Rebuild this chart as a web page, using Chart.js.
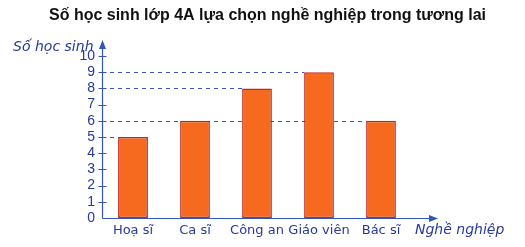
<!DOCTYPE html>
<html>
<head>
<meta charset="utf-8">
<script src="https://cdn.jsdelivr.net/npm/chart.js@4/dist/chart.umd.min.js"></script>
<style>
  html, body { margin: 0; padding: 0; background: #fff; }
  canvas { display: block; }
</style>
</head>
<body>
<canvas id="careerChart" width="525" height="247"></canvas>
<script>
// Data
const careers = ['Hoạ sĩ', 'Ca sĩ', 'Công an', 'Giáo viên', 'Bác sĩ'];
const students = [5, 6, 8, 9, 6];
const yTicks = [0, 1, 2, 3, 4, 5, 6, 7, 8, 9, 10];
const chartTitle = 'Số học sinh lớp 4A lựa chọn nghề nghiệp trong tương lai';

const axisBlue = '#3556b8';
const textBlue = '#26399c';

// Plugin: dashed guide lines, arrowed axes, crossing tick marks, titles
const schoolAxes = {
  id: 'schoolAxes',
  beforeDatasetsDraw(chart) {
    const ctx = chart.ctx;
    const y = chart.scales.y;
    const meta = chart.getDatasetMeta(0);
    const x0 = chart.chartArea.left;
    ctx.save();
    ctx.strokeStyle = axisBlue;
    ctx.lineWidth = 1;
    ctx.setLineDash([4, 4]);
    meta.data.forEach(function(bar, i) {
      const py = Math.round(y.getPixelForValue(students[i])) + 0.5;
      ctx.beginPath();
      ctx.moveTo(x0, py);
      ctx.lineTo(bar.x - bar.width / 2, py);
      ctx.stroke();
    });
    ctx.restore();
  },
  afterDatasetsDraw(chart) {
    const ctx = chart.ctx;
    const area = chart.chartArea;
    const y = chart.scales.y;
    const ax = Math.round(area.left) + 0.5;
    const ay = Math.round(area.bottom) + 0.5;
    ctx.save();

    // main title
    ctx.fillStyle = '#111';
    ctx.font = 'bold 16px "Liberation Sans"';
    ctx.textAlign = 'center';
    ctx.textBaseline = 'middle';
    ctx.fillText(chartTitle, chart.width / 2 + 5, 16);

    ctx.strokeStyle = axisBlue;
    ctx.fillStyle = axisBlue;
    ctx.lineWidth = 1.2;

    // y axis with arrow
    ctx.beginPath();
    ctx.moveTo(ax, ay);
    ctx.lineTo(ax, area.top - 10);
    ctx.stroke();
    ctx.beginPath();
    ctx.moveTo(ax, area.top - 16);
    ctx.lineTo(ax - 3.5, area.top - 7);
    ctx.lineTo(ax + 3.5, area.top - 7);
    ctx.closePath();
    ctx.fill();

    // x axis with arrow
    const xEnd = area.right + 22;
    ctx.beginPath();
    ctx.moveTo(ax, ay);
    ctx.lineTo(xEnd - 4, ay);
    ctx.stroke();
    ctx.beginPath();
    ctx.moveTo(xEnd + 4, ay);
    ctx.lineTo(xEnd - 5, ay - 3.5);
    ctx.lineTo(xEnd - 5, ay + 3.5);
    ctx.closePath();
    ctx.fill();

    // tick marks crossing the y axis
    ctx.lineWidth = 1;
    yTicks.forEach(function(v) {
      if (v === 0) return;
      const py = Math.round(y.getPixelForValue(v)) + 0.5;
      ctx.beginPath();
      ctx.moveTo(ax - 4, py);
      ctx.lineTo(ax + 4, py);
      ctx.stroke();
    });

    // axis titles
    ctx.fillStyle = textBlue;
    ctx.font = 'italic 14px "DejaVu Sans"';
    ctx.textBaseline = 'middle';
    ctx.textAlign = 'right';
    ctx.fillText('Số học sinh', ax - 9, area.top - 9);
    ctx.textAlign = 'left';
    ctx.fillText('Nghề nghiệp', xEnd - 19, ay + 12);
    ctx.restore();
  }
};

new Chart(document.getElementById('careerChart'), {
  type: 'bar',
  data: {
    labels: careers,
    datasets: [{
      label: 'Số học sinh',
      data: students,
      backgroundColor: '#f56a1e',
      borderColor: '#c3281c',
      borderWidth: 1.5,
      borderSkipped: false,
      categoryPercentage: 1,
      barPercentage: 0.48
    }]
  },
  options: {
    responsive: false,
    animation: false,
    devicePixelRatio: 1,
    layout: {
      padding: { top: 56, right: 113, bottom: 0, left: 0 }
    },
    scales: {
      x: {
        grid: { display: false, drawTicks: false },
        border: { display: false },
        ticks: {
          color: textBlue,
          font: { family: 'DejaVu Sans', size: 13 },
          padding: 5,
          maxRotation: 0,
          autoSkip: false
        },
        afterFit: function(scale) { scale.height = 29; }
      },
      y: {
        min: 0,
        max: 10,
        grid: { display: false, drawTicks: false },
        border: { display: false },
        ticks: {
          stepSize: 1,
          autoSkip: false,
          color: textBlue,
          font: { family: 'Liberation Sans', size: 14 },
          padding: 7
        },
        afterFit: function(scale) { scale.width = 102; }
      }
    },
    plugins: {
      legend: { display: false },
      tooltip: { enabled: false },
      title: { display: false }
    }
  },
  plugins: [schoolAxes]
});
</script>
</body>
</html>
